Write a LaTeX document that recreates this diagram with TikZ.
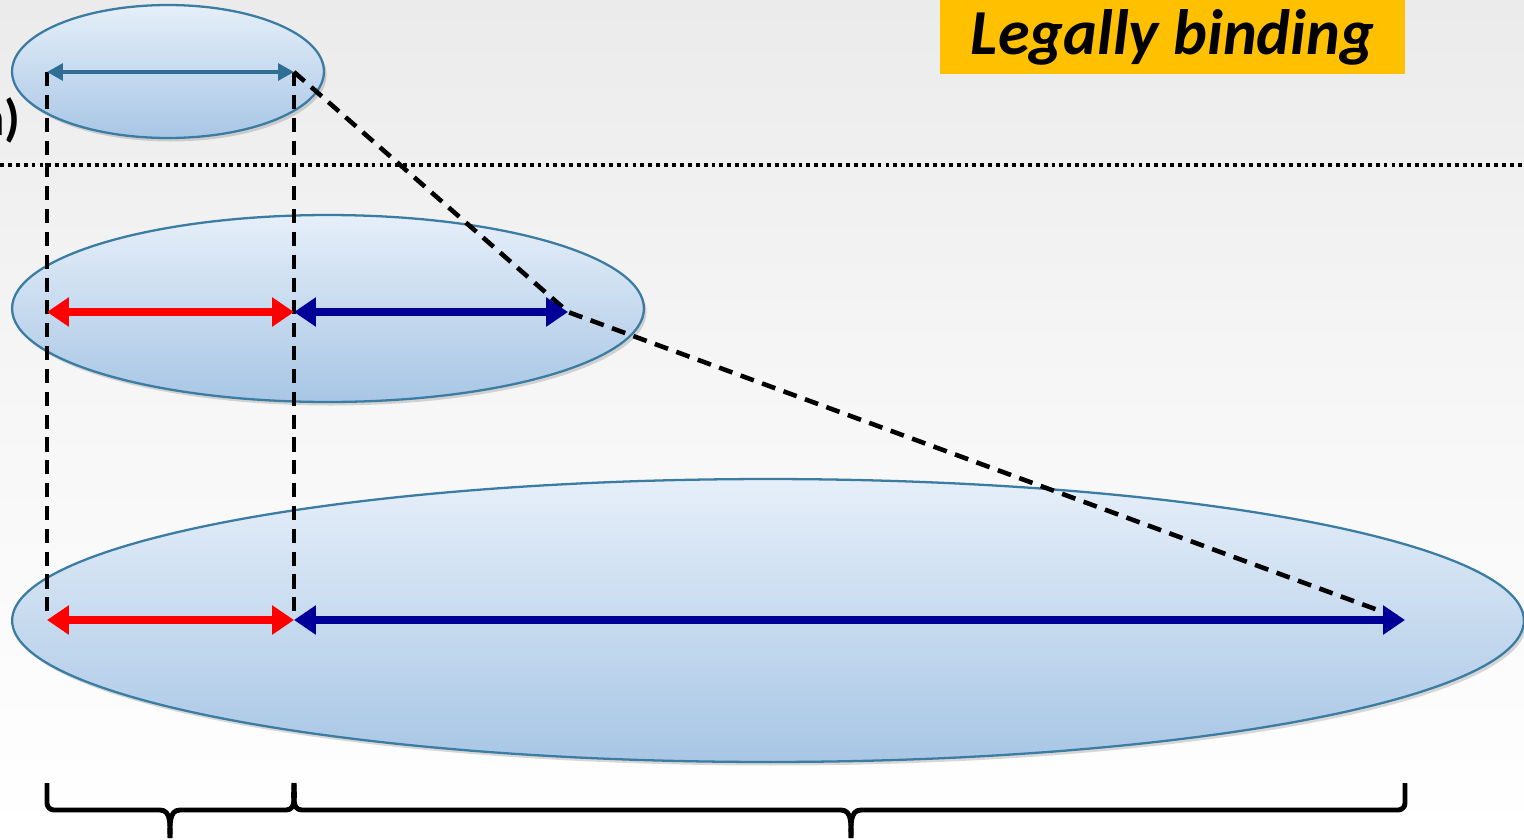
\documentclass[tikz,border=0pt]{standalone}
\usepackage{fontspec}
\setmainfont{Carlito}
\usetikzlibrary{shapes.geometric,arrows.meta,shadows}
\definecolor{bgtop}{HTML}{EBEBEB}
\definecolor{ellborder}{HTML}{3B7CA3}
\definecolor{elltop}{HTML}{E6EFF9}
\definecolor{ellbot}{HTML}{A8C6E5}
\definecolor{thinblue}{HTML}{2F6F95}
\definecolor{navy}{HTML}{000099}
\definecolor{gold}{HTML}{FFC000}
\tikzset{
  ell/.style={ellipse, draw=ellborder, line width=1.3pt, top color=elltop, bottom color=ellbot, inner sep=0pt,
    drop shadow={shadow xshift=1.5pt, shadow yshift=-2pt, opacity=0.25, fill=black!60}},
  redarr/.style={draw=red, line width=4.6pt, {Triangle[length=12.5pt,width=16pt]}-{Triangle[length=12.5pt,width=16pt]}, fill=red},
  bluearr/.style={draw=navy, line width=4.6pt, {Triangle[length=12.5pt,width=16pt]}-{Triangle[length=12.5pt,width=16pt]}, fill=navy},
  thinarr/.style={draw=thinblue, line width=2pt, {Triangle[length=9pt,width=9.5pt]}-{Triangle[length=9pt,width=9.5pt]}},
  dashline/.style={draw=black, line width=2.6pt, dash pattern=on 8pt off 5pt},
  bracepath/.style={draw=black, line width=2.8pt, line join=round},
}
\begin{document}
\begin{tikzpicture}[x=0.02cm,y=-0.02cm]
\useasboundingbox (0,0) rectangle (1524,839);
\clip (0,0) rectangle (1524,839);
\shade[top color=bgtop, bottom color=white, middle color=bgtop!40] (0,0) rectangle (1524,839);

% ellipses
\node[ell, minimum width=6.24cm, minimum height=2.66cm] (e1) at (168,71.5) {};
\node[ell, minimum width=12.64cm, minimum height=3.74cm] (e2) at (328,308.5) {};
\node[ell, minimum width=30.24cm, minimum height=5.66cm] (e3) at (768,620.5) {};

% label box
\node[fill=gold, minimum width=9.3cm, minimum height=1.48cm, inner sep=0pt, font=\fontsize{36.5}{40}\selectfont\bfseries\itshape] (lb) at (1172.5,37) {Legally binding};

% cut-off text (cut at the left edge, as in the original)
\node[anchor=east, inner sep=0pt, font=\fontsize{29}{32}\selectfont\bfseries] (cut) at (21,120) {n)};

% dotted separator
\coordinate (dl) at (0,165);
\coordinate (dr) at (1524,165);
\draw[black, line width=2.2pt, dash pattern=on 2.2pt off 2.3pt] (dl) -- (dr);

% coordinates
\coordinate (a1) at (47,72);
\coordinate (b1) at (294,72);
\coordinate (a2) at (47,312);
\coordinate (b2) at (294,312);
\coordinate (c2) at (568,312);
\coordinate (a3) at (47,620);
\coordinate (b3) at (294,620);
\coordinate (c3) at (1405,620);

% dashed guides
\draw[dashline] (a1) -- (a3);
\draw[dashline] (b1) -- (b3);
\draw[dashline] (b1) -- (c2) -- (c3);

% arrows
\draw[thinarr] (a1) -- (b1);
\draw[redarr] (a2) -- (b2);
\draw[bluearr] (b2) -- (c2);
\draw[redarr] (a3) -- (b3);
\draw[bluearr] (b3) -- (c3);

% braces
\coordinate (lb1) at (47,783);
\coordinate (lb2) at (294,783);
\coordinate (lbt) at (170,838);
\coordinate (rb1) at (294,783);
\coordinate (rb2) at (1405,783);
\coordinate (rbt) at (851,838);
\draw[bracepath] (lb1) -- ++(0,20) to[out=-90,in=180] ++(7,7) -- (160,810) to[out=0,in=90] (lbt);
\draw[bracepath] (lb2) to[out=-90,in=0] ++(-8,27) -- (180,810) to[out=180,in=90] (lbt);
\draw[bracepath] (rb1) to[out=-90,in=180] ++(8,27) -- (841,810) to[out=0,in=90] (rbt);
\draw[bracepath] (rb2) -- ++(0,20) to[out=-90,in=0] ++(-7,7) -- (861,810) to[out=180,in=90] (rbt);
\end{tikzpicture}
\end{document}
